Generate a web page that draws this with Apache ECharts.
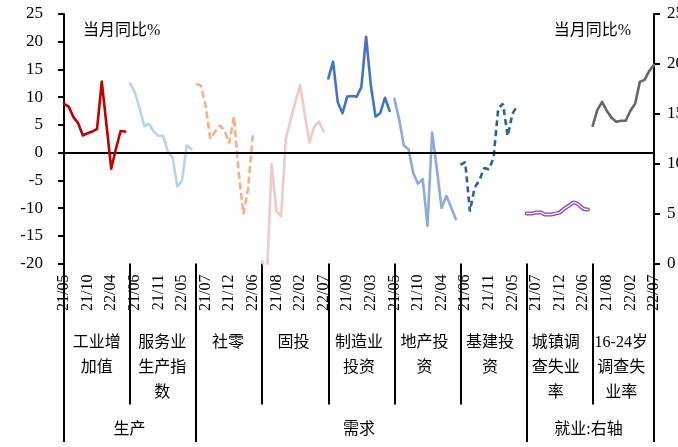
<!DOCTYPE html>
<html>
<head>
<meta charset="utf-8">
<script src="https://cdn.jsdelivr.net/npm/echarts@6.0.0/dist/echarts.min.js"></script>
<style>
  html, body { margin: 0; padding: 0; background: #fff; }
  #chart { width: 678px; height: 447px; }
</style>
</head>
<body>
<div id="chart"></div>
<script>
// Months shown in every panel (Jan and Feb are reported together as 22/02)
const months = ['21/05', '21/06', '21/07', '21/08', '21/09', '21/10', '21/11', '21/12',
                '22/02', '22/03', '22/04', '22/05', '22/06', '22/07'];

// Panel titles along the bottom
const panelNames = ['工业增\n加值', '服务业\n生产指\n数', '社零', '固投', '制造业\n投资',
                    '地产投\n资', '基建投\n资', '城镇调\n查失业\n率', '16-24岁\n调查失\n业率'];

// Group titles and how many panels each group spans
const groupNames = ['生产', '需求', '就业:右轴'];
const groupSpans = [2, 5, 2];

// Year-on-year growth, % (left axis)
const industrial     = [8.8, 8.3, 6.4, 5.3, 3.1, 3.5, 3.8, 4.3, 12.8, 5.0, -2.9, 0.7, 3.9, 3.8];
const services       = [12.5, 10.9, 8.0, 4.8, 5.2, 3.8, 3.1, 3.0, 0.2, -0.9, -6.1, -5.1, 1.3, 0.6];
const retail         = [12.4, 12.1, 8.5, 2.5, 3.8, 4.9, 4.0, 1.7, 6.5, -3.5, -11.1, -6.5, 3.1, null];
const fixedInvest    = [-19.5, -22.0, -2.1, -10.6, -11.5, 2.6, 5.8, 9.0, 12.2, 7.0, 1.8, 4.7, 5.6, 3.8];
const manufacturing  = [13.4, 16.4, 9.1, 7.1, 10.1, 10.2, 10.1, 11.8, 20.9, 12.2, 6.5, 7.1, 9.9, 7.5];
const realEstate     = [9.7, 6.0, 1.3, 0.6, -3.7, -5.6, -4.8, -13.2, 3.6, -3.0, -10.0, -7.8, -9.8, -12.0];
const infrastructure = [-2.2, -1.7, -10.6, -6.3, -5.0, -2.8, -3.0, -1.0, 8.0, 8.8, 3.0, 7.0, 8.4, null];

// Surveyed unemployment rate, % (right axis)
const urbanUnemp = [5.0, 5.0, 5.1, 5.1, 4.9, 4.9, 5.0, 5.1, 5.5, 5.8, 6.1, 5.9, 5.5, 5.4];
const youthUnemp = [13.8, 15.4, 16.2, 15.3, 14.6, 14.2, 14.3, 14.3, 15.3, 16.0, 18.2, 18.4, 19.3, 19.9];

// Axis ranges
const leftAxis  = { min: -20, max: 25, interval: 5 };
const rightAxis = { min: 0, max: 25, interval: 5 };

const perPanel = months.length;
const panelCount = panelNames.length;
const total = perPanel * panelCount;

// one long category axis: the months repeated for every panel
const categories = [];
for (let p = 0; p < panelCount; p++) categories.push(...months);

// place a panel's values into its slot of the shared category axis
function place(values, panel) {
  const arr = new Array(total).fill(null);
  values.forEach((v, i) => { arr[panel * perPanel + i] = v; });
  return arr;
}

// half-panel positions for the group titles
const groupSlots = new Array(panelCount * 2 + 1).fill('');
let start = 0;
groupNames.forEach((g, i) => {
  groupSlots[start * 2 + groupSpans[i]] = g;
  start += groupSpans[i];
});
// indices where the long group separators sit
const groupEdges = [0];
start = 0;
groupSpans.forEach(s => { start += s; groupEdges.push(Math.min(start * perPanel, total - 1)); });

const SERIF = "'Liberation Serif','Times New Roman',serif";
const MIXED = "'Liberation Serif','Noto Sans CJK SC',serif";

function line(name, data, color, width, extra) {
  return Object.assign({
    name: name,
    type: 'line',
    data: data,
    showSymbol: false,
    symbol: 'none',
    connectNulls: false,
    clip: true,
    lineStyle: { color: color, width: width, type: 'solid', cap: 'round', join: 'round' },
    itemStyle: { color: color },
    emphasis: { disabled: true }
  }, extra || {});
}

const zeroLine = {
  silent: true,
  symbol: ['none', 'none'],
  animation: false,
  label: { show: false },
  lineStyle: { color: '#000', width: 2, type: 'solid' },
  data: [{ yAxis: 0 }]
};

const series = [
  line('工业增加值', place(industrial, 0), '#C00000', 2.6, { markLine: zeroLine, z: 5 }),
  line('服务业生产指数', place(services, 1), '#B5D5EF', 2.6),
  line('社零', place(retail, 2), '#F4B183', 2.6, { lineStyle: { color: '#F4B183', width: 2.6, type: [7, 3.5] } }),
  line('固投', place(fixedInvest, 3), '#EFC9C6', 2.6),
  line('制造业投资', place(manufacturing, 4), '#4472C4', 2.6),
  line('地产投资', place(realEstate, 5), '#8EA9DB', 2.6),
  line('基建投资', place(infrastructure, 6), '#2B6298', 2.6, { lineStyle: { color: '#2B6298', width: 2.6, type: [6, 4] } }),
  line('城镇调查失业率', place(urbanUnemp, 7), '#8546B9', 4, { yAxisIndex: 1, smooth: 0.3 }),
  line('城镇调查失业率', place(urbanUnemp, 7), '#F1E6FA', 1.5, { yAxisIndex: 1, smooth: 0.3 }),
  line('16-24岁调查失业率', place(youthUnemp, 8), '#666666', 2.6, { yAxisIndex: 1 })
];

const chart = echarts.init(document.getElementById('chart'), null, { renderer: 'canvas' });
chart.setOption({
  animation: false,
  backgroundColor: '#fff',
  title: [
    { text: '当月同比%', left: 78, top: 18, textStyle: { fontFamily: MIXED, fontSize: 16, fontWeight: 'normal', color: '#000' } },
    { text: '当月同比%', right: 42, top: 18, textStyle: { fontFamily: MIXED, fontSize: 16, fontWeight: 'normal', color: '#000' } }
  ],
  grid: { left: 64, right: 24, top: 14, bottom: 183.5, containLabel: false, outerBoundsMode: 'none' },
  xAxis: [
    {
      type: 'category', data: categories, boundaryGap: false, position: 'bottom',
      axisLine: { show: false, onZero: false },
      axisTick: { show: true, interval: (i) => i % perPanel === 0, length: 141, inside: false,
                  lineStyle: { color: '#000', width: 2 } },
      axisLabel: { interval: 4, rotate: 90, margin: 11, fontFamily: SERIF, fontSize: 16, color: '#000' },
      splitLine: { show: false }
    },
    {
      type: 'category', data: categories, boundaryGap: false, position: 'bottom',
      axisLine: { show: false, onZero: false },
      axisTick: { show: true, interval: (i) => groupEdges.indexOf(i) >= 0, length: 178.5, inside: false,
                  lineStyle: { color: '#000', width: 2 } },
      axisLabel: { show: false },
      splitLine: { show: false }
    },
    {
      type: 'category', data: panelNames, boundaryGap: true, position: 'bottom',
      axisLine: { show: false, onZero: false }, axisTick: { show: false },
      axisLabel: { interval: 0, margin: 67, fontFamily: MIXED, fontSize: 16, lineHeight: 25,
                   color: '#000', align: 'center', verticalAlign: 'top' },
      splitLine: { show: false }
    },
    {
      type: 'category', data: groupSlots, boundaryGap: false, position: 'bottom',
      axisLine: { show: false, onZero: false }, axisTick: { show: false },
      axisLabel: { interval: 0, margin: 156, fontFamily: MIXED, fontSize: 16, lineHeight: 20,
                   color: '#000', align: 'center', verticalAlign: 'top' },
      splitLine: { show: false }
    }
  ],
  yAxis: [
    {
      type: 'value', position: 'left', min: leftAxis.min, max: leftAxis.max, interval: leftAxis.interval,
      axisLine: { show: true, onZero: false, lineStyle: { color: '#000', width: 2 } },
      axisTick: { show: true, inside: false, length: 6, lineStyle: { color: '#000', width: 2 } },
      axisLabel: { margin: 21, fontFamily: SERIF, fontSize: 17, color: '#000' },
      splitLine: { show: false }
    },
    {
      type: 'value', position: 'right', min: rightAxis.min, max: rightAxis.max, interval: rightAxis.interval,
      axisLine: { show: true, onZero: false, lineStyle: { color: '#000', width: 2 } },
      axisTick: { show: true, inside: false, length: 6, lineStyle: { color: '#000', width: 2 } },
      axisLabel: { margin: 13, fontFamily: SERIF, fontSize: 17, color: '#000' },
      splitLine: { show: false }
    }
  ],
  series: series
});
</script>
</body>
</html>
